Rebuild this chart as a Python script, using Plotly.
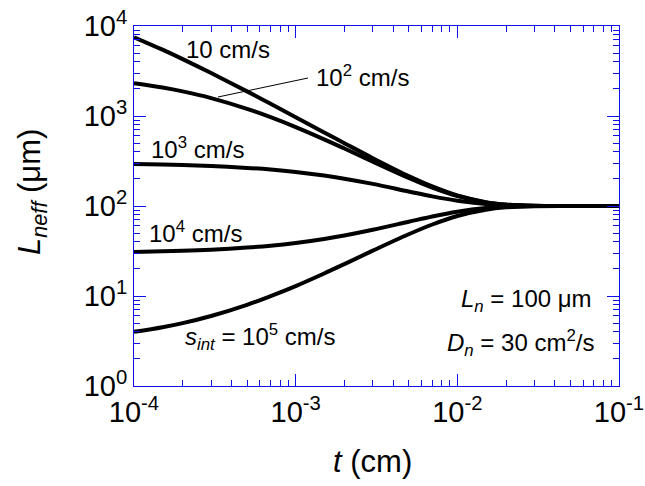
import plotly.graph_objects as go

# thickness t (cm)
t_cm = [1e-4, 1.5e-4, 2e-4, 3e-4, 5e-4, 7e-4, 1e-3, 1.5e-3, 2e-3, 3e-3,
        5e-3, 7e-3, 1e-2, 1.5e-2, 2e-2, 3e-2, 5e-2, 1e-1]

# effective diffusion length (um) for each interface recombination velocity
leff_s1e1 = [7500, 5455, 4286, 3000, 1877, 1366, 971, 657, 499, 340,
             215, 165, 131, 110.4, 103.7, 100.5, 100, 100]
leff_s1e2 = [2309, 2070, 1876, 1581, 1203, 971, 754, 551, 436, 311,
             205, 160, 129, 109.8, 103.5, 100.5, 100, 100]
leff_s1e3 = [292, 289, 285, 278, 265, 254, 239, 218, 201, 176,
             145, 128, 114.5, 105.1, 101.8, 100.2, 100, 100]
leff_s1e4 = [30.9, 31.4, 31.8, 32.7, 34.5, 36.2, 38.8, 43.0, 47.0, 54.4,
             66.9, 76.6, 86.4, 94.8, 98.0, 99.7, 100, 100]
leff_s1e5 = [4.00, 4.50, 5.00, 6.00, 7.98, 9.97, 12.9, 17.8, 22.6, 31.9,
             48.5, 62.3, 77.4, 91.0, 96.6, 99.5, 100, 100]

x_tickvals = [1e-4, 1e-3, 1e-2, 1e-1]
x_ticktext = ["10<sup>-4</sup>", "10<sup>-3</sup>", "10<sup>-2</sup>", "10<sup>-1</sup>"]
y_tickvals = [1, 10, 100, 1000, 10000]
y_ticktext = ["10<sup>0</sup>", "10<sup>1</sup>", "10<sup>2</sup>", "10<sup>3</sup>", "10<sup>4</sup>"]

FONT = "Liberation Sans, Arial, Helvetica, sans-serif"
BLUE = "#1010e8"

fig = go.Figure()
for ys in [leff_s1e1, leff_s1e2, leff_s1e3, leff_s1e4, leff_s1e5]:
    fig.add_trace(go.Scatter(x=t_cm, y=ys, mode="lines",
                             line=dict(color="black", width=4, shape="spline"),
                             showlegend=False, hoverinfo="skip"))

W, H = 645, 486
ML, MR, MT, MB = 134, 26, 26, 100
PW, PH = W - ML - MR, H - MT - MB


def px(x):
    return (x - ML) / PW


def py(y):
    return (H - MB - y) / PH


axis_common = dict(
    type="log", showgrid=False, zeroline=False, automargin=False,
    showline=True, linecolor=BLUE, linewidth=1, mirror="ticks",
    ticks="inside", ticklen=12, tickcolor=BLUE, tickwidth=1,
    tickfont=dict(family=FONT, size=29, color="black"),
    minor=dict(ticks="inside", ticklen=6, tickcolor=BLUE, tickwidth=1,
               dtick="D1", showgrid=False),
)

fig.update_layout(
    width=W, height=H,
    margin=dict(l=ML, r=MR, t=MT, b=MB, pad=0, autoexpand=False),
    paper_bgcolor="white", plot_bgcolor="white",
    font=dict(family=FONT, color="black"),
    xaxis=dict(range=[-4, -1], tickvals=x_tickvals, ticktext=x_ticktext, **axis_common),
    yaxis=dict(range=[0, 4], tickvals=y_tickvals, ticktext=y_ticktext, **axis_common),
)

ann_font = dict(family=FONT, size=24, color="black")
annots = [
    ("10 cm/s", 228, 49, "center"),
    ("10<sup>2</sup> cm/s", 362, 76, "center"),
    ("10<sup>3</sup> cm/s", 197, 148, "center"),
    ("10<sup>4</sup> cm/s", 195, 232, "center"),
    ("<i>s<sub>int</sub></i> = 10<sup>5</sup> cm/s", 260, 337, "center"),
    ("<i>L<sub>n</sub></i> = 100 μm", 594, 300, "right"),
    ("<i>D<sub>n</sub></i> = 30 cm<sup>2</sup>/s", 596, 343, "right"),
]
for txt, x, y, al in annots:
    fig.add_annotation(text=txt, x=px(x), y=py(y), xref="paper", yref="paper",
                       xanchor=al, yanchor="middle", showarrow=False, font=ann_font)

# leader line for 10^2 label
fig.add_shape(type="line", xref="paper", yref="paper",
              x0=px(218), y0=py(97), x1=px(308), y1=py(78),
              line=dict(color="black", width=1))

# axis titles
fig.add_annotation(text="<i>t</i> (cm)", x=px(372), y=py(462), xref="paper", yref="paper",
                   showarrow=False, font=dict(family=FONT, size=31, color="black"),
                   xanchor="center", yanchor="middle")
fig.add_annotation(text="<i>L<sub>neff</sub></i> (μm)", x=px(32), y=py(192),
                   xref="paper", yref="paper", textangle=-90,
                   showarrow=False, font=dict(family=FONT, size=31, color="black"),
                   xanchor="center", yanchor="middle")

fig.write_html("out.html")
